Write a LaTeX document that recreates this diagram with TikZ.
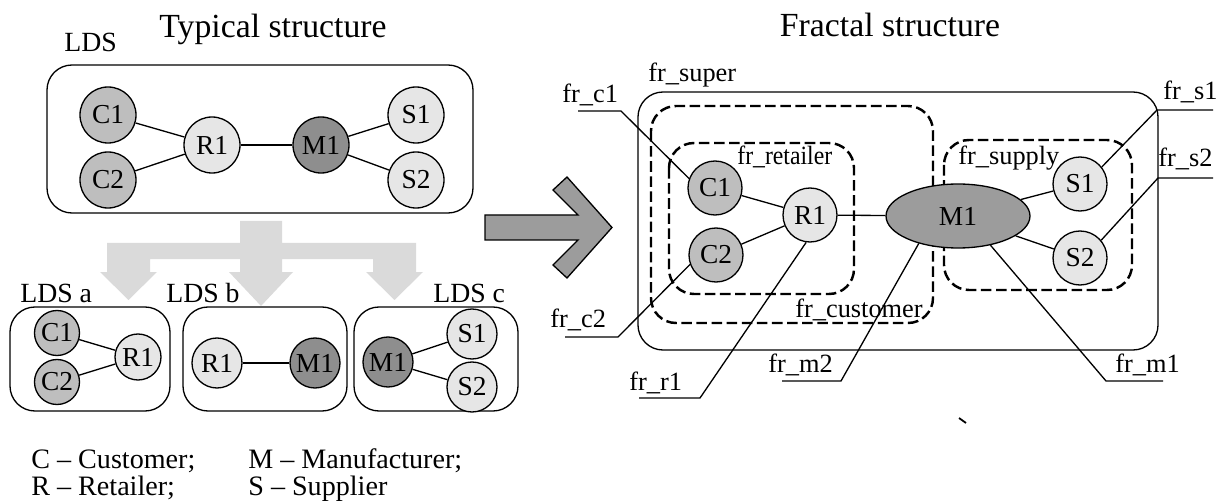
\documentclass[tikz,border=0pt]{standalone}
\usepackage{fontspec}
\setmainfont{Liberation Serif}
\usetikzlibrary{shapes.geometric}
\definecolor{cgray}{HTML}{BEBEBE}
\definecolor{lgray}{HTML}{E6E6E6}
\definecolor{dgray}{HTML}{8E8E8E}
\definecolor{forkgray}{HTML}{DADADA}
\definecolor{arrgray}{HTML}{9C9C9C}
\tikzset{
  ln/.style={line width=0.75pt},
  nd/.style={circle, draw, line width=0.75pt, inner sep=0pt, minimum size=#1*0.02cm,
    font=\fontsize{15.6}{17}\selectfont},
  nd/.default=56,
  cnode/.style={nd=#1, fill=cgray}, cnode/.default=56,
  lnode/.style={nd=#1, fill=lgray}, lnode/.default=56,
  mnode/.style={nd=#1, fill=dgray}, mnode/.default=56,
  cont/.style={draw, line width=0.75pt, rounded corners=0.5cm},
  dbox/.style={draw, line width=1.4pt, dash pattern=on 6pt off 2.6pt, rounded corners=0.5cm},
  ttl/.style={anchor=base, inner sep=0pt, font=\fontsize{19.2}{22}\selectfont},
  lab/.style={anchor=base west, inner sep=0pt, font=\fontsize{15.8}{18}\selectfont},
  frl/.style={anchor=base west, inner sep=0pt, font=\fontsize{15}{17}\selectfont},
  leg/.style={anchor=base west, inner sep=0pt, font=\fontsize{16}{18}\selectfont},
}
\begin{document}
\begin{tikzpicture}[x=0.02cm, y=-0.02cm]
\useasboundingbox (0,0) rectangle (1220,503);

% ---------- Typical structure ----------
\node[ttl] (ttyp) at (273,38) {Typical structure};
\node[lab] (llds) at (64,52) {LDS};
\draw[cont] (47,65) rectangle (473,213);
\node[cnode] (tC1) at (108,115) {C1};
\node[cnode] (tC2) at (108,180) {C2};
\node[lnode] (tR1) at (212,145) {R1};
\node[mnode] (tM1) at (321,145) {M1};
\node[lnode] (tS1) at (416,115) {S1};
\node[lnode] (tS2) at (416,180) {S2};
\draw[ln] (tC1) -- (tR1);
\draw[ln] (tC2) -- (tR1);
\draw[ln] (tR1) -- (tM1);
\draw[ln] (tM1) -- (tS1);
\draw[ln] (tM1) -- (tS2);

% fork arrows
\fill[forkgray] (240,221) -- (282,221) -- (282,243) -- (416,243) -- (416,272) -- (423,272)
  -- (394.5,300) -- (366,272) -- (373,272) -- (373,259) -- (282,259) -- (282,272)
  -- (293,272) -- (261,306) -- (229,272) -- (240,272) -- (240,259) -- (150,259)
  -- (150,272) -- (157,272) -- (128.5,300) -- (100,272) -- (107,272) -- (107,243)
  -- (240,243) -- cycle;

% LDS a
\node[lab] (llda) at (20,302) {LDS a};
\draw[cont] (10,307) rectangle (170,411);
\node[cnode=45] (aC1) at (57,333) {C1};
\node[cnode=45] (aC2) at (57,382) {C2};
\node[lnode=46] (aR1) at (138,357) {R1};
\draw[ln] (aC1) -- (aR1);
\draw[ln] (aC2) -- (aR1);

% LDS b
\node[lab] (lldb) at (166,302) {LDS b};
\draw[cont] (183,307) rectangle (347,411);
\node[lnode=50] (bR1) at (217,363) {R1};
\node[mnode=50] (bM1) at (315,363) {M1};
\draw[ln] (bR1) -- (bM1);

% LDS c
\node[lab] (lldc) at (433,302) {LDS c};
\draw[cont] (354,307) rectangle (518,411);
\node[mnode=50] (cM1) at (388,362) {M1};
\node[lnode=50] (cS1) at (472,334) {S1};
\node[lnode=50] (cS2) at (472,387) {S2};
\draw[ln] (cM1) -- (cS1);
\draw[ln] (cM1) -- (cS2);

% legend
\node[leg] (lg1) at (31,468) {C -- Customer;};
\node[leg] (lg2) at (248,468) {M -- Manufacturer;};
\node[leg] (lg3) at (31,495) {R -- Retailer;};
\node[leg] (lg4) at (248,495) {S -- Supplier};

% big arrow
\draw[ln, fill=arrgray] (485,215) -- (578,215) -- (553,190) -- (567,177) -- (612,227.5)
  -- (567,278) -- (553,265) -- (578,240) -- (485,240) -- cycle;

% ---------- Fractal structure ----------
\node[ttl] (tfrac) at (890,37) {Fractal structure};
\node[frl] (lsup) at (648,82) {fr\_super};
\draw[cont] (638,92) rectangle (1158,350);
\draw[dbox] (651,106) rectangle (933,323);
\draw[dbox] (669,143) rectangle (854,294);
\draw[dbox] (944,140) rectangle (1132,290);
\node[frl] (lret) at (737,165) {\scalebox{0.9}[1]{fr\_retailer}};
\node[frl] (lspl) at (958,165) {fr\_supply};
\node[frl] (lcus) at (795,317) {fr\_customer};

\node[cnode=54] (fC1) at (715,188) {C1};
\node[cnode=54] (fC2) at (716,255) {C2};
\node[lnode=54] (fR1) at (810,215) {R1};
\node[ellipse, draw, line width=0.75pt, fill=arrgray, inner sep=0pt,
  minimum width=2.88cm, minimum height=1.28cm, font=\fontsize{15.6}{17}\selectfont] (fM1) at (958,216) {M1};
\node[lnode=54] (fS1) at (1080,184) {S1};
\node[lnode=54] (fS2) at (1080,258) {S2};
\draw[ln] (fC1) -- (fR1);
\draw[ln] (fC2) -- (fR1);
\draw[ln] (fR1) -- (fM1);
\draw[ln] (fM1) -- (fS1);
\draw[ln] (fM1) -- (fS2);

% leaders
\node[frl] (lc1) at (562,103) {fr\_c1};
\coordinate (c1a) at (578,111); \coordinate (c1b) at (621,111);
\draw[ln] (c1a) -- (c1b) -- (fC1.160);

\node[frl] (lc2) at (550,327) {fr\_c2};
\coordinate (c2a) at (565,337); \coordinate (c2b) at (618,337);
\draw[ln] (c2a) -- (c2b) -- (fC2.200);

\node[frl] (lr1) at (629,390) {fr\_r1};
\coordinate (r1a) at (639,398); \coordinate (r1b) at (700,398);
\draw[ln] (r1a) -- (r1b) -- (fR1.262);

\node[frl] (lm2) at (768,372) {fr\_m2};
\coordinate (m2a) at (782,381); \coordinate (m2b) at (841,381);
\draw[ln] (m2a) -- (m2b) -- (fM1.215);

\node[frl] (lm1) at (1115,372) {fr\_m1};
\coordinate (m1a) at (1163,381); \coordinate (m1b) at (1106,381);
\draw[ln] (m1a) -- (m1b) -- (fM1.318);

\node[frl] (ls1) at (1163,100) {fr\_s1};
\coordinate (s1a) at (1213,110); \coordinate (s1b) at (1157,110);
\draw[ln] (s1a) -- (s1b) -- (fS1.38);

\node[frl] (ls2) at (1158,167) {fr\_s2};
\coordinate (s2a) at (1213,178); \coordinate (s2b) at (1158,178);
\draw[ln] (s2a) -- (s2b) -- (fS2.40);

% stray tick
\coordinate (tk1) at (959,418); \coordinate (tk2) at (966,423);
\draw[line width=1pt] (tk1) -- (tk2);
\end{tikzpicture}
\end{document}
